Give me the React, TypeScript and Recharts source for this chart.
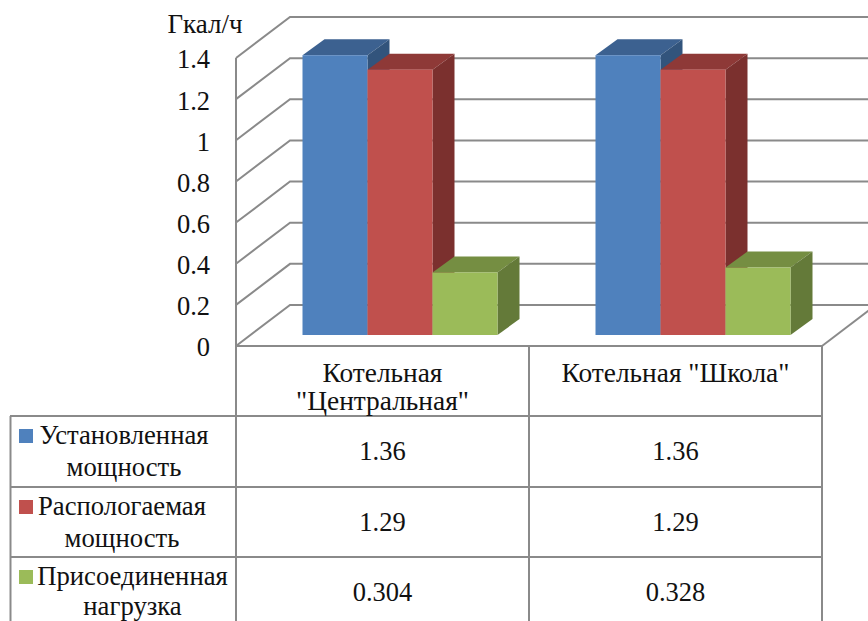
import { Bar, BarChart, CartesianGrid, XAxis, YAxis } from "recharts";

const categories = ['Котельная "Центральная"', 'Котельная "Школа"'];
const categoryLines = [["Котельная", '"Центральная"'], ['Котельная "Школа"']];
const installed = [1.36, 1.36];
const available = [1.29, 1.29];
const connected = [0.304, 0.328];
const yTicks = [0, 0.2, 0.4, 0.6, 0.8, 1, 1.2, 1.4];

const seriesKeys = ["installed", "available", "connected"];
const seriesValues = [installed, available, connected];
const seriesLabels = [
  ["Установленная", "мощность"],
  ["Распологаемая", "мощность"],
  ["Присоединенная", "нагрузка"],
];

const data = categories.map((category, i) => ({
  category,
  installed: installed[i],
  available: available[i],
  connected: connected[i],
}));

const FRONT_COLORS = ["#4f81bd", "#c0504d", "#9bbb59"];
const TOP_COLORS = ["#3c6190", "#8e3937", "#758e42"];
const SIDE_COLORS = ["#32547c", "#7b302e", "#647a39"];

const FONT = '"Liberation Serif", "Times New Roman", serif';
const FONT_SIZE = 26.5;
const LINE = "#8a8a8a";
const TEXT = "#111";

// projection of the walls and of the bars
const WALL_DX = 54;
const WALL_DY = -41;
const PLANE_DX = 18;
const PLANE_DY = -11;
const DEPTH_DX = 22;
const DEPTH_DY = -16;

const ROW_TOPS = [416, 487, 557];
const LABEL_X = [124, 122, 132.5];
const LABEL_LINE2 = [60, 60, 58];

const Box3D = ({ x, y, width, height, front, top, side }: any) => {
  const l = x + PLANE_DX;
  const r = l + width;
  const t = y + PLANE_DY;
  const b = t + height;
  return (
    <g>
      <polygon points={`${l},${t} ${l + DEPTH_DX},${t + DEPTH_DY} ${r + DEPTH_DX},${t + DEPTH_DY} ${r},${t}`} fill={top} />
      <polygon points={`${r},${t} ${r + DEPTH_DX},${t + DEPTH_DY} ${r + DEPTH_DX},${b + DEPTH_DY} ${r},${b}`} fill={side} />
      <rect x={l} y={t} width={width} height={height} fill={front} />
    </g>
  );
};

const WallLine = ({ x1, y1, x2, index }: any) => (
  <g key={`wall-${index}`} fill="none" stroke={LINE} strokeWidth={2}>
    <polyline points={`${x1},${y1} ${x1 + WALL_DX},${y1 + WALL_DY} 868,${y1 + WALL_DY}`} />
    {index === 0 && <line x1={x2} y1={y1} x2={x2 + WALL_DX} y2={y1 + WALL_DY} />}
  </g>
);

const CategoryTick = ({ x, y, index }: any) => (
  <g fontFamily={FONT} fill={TEXT} textAnchor="middle">
    {categoryLines[index].map((line, i) => (
      <text key={line} x={x} y={y + 28 + i * 28} fontSize={27.4}>
        {line}
      </text>
    ))}
    {seriesValues.map((values, row) => (
      <text key={seriesKeys[row]} x={x} y={ROW_TOPS[row] + 44} fontSize={FONT_SIZE}>
        {values[index]}
      </text>
    ))}
  </g>
);

const TableLines = () => (
  <svg width={868} height={621} style={{ position: "absolute", left: 0, top: 0 }}>
    <g stroke={LINE} strokeWidth={2}>
      <line x1={236} y1={346} x2={236} y2={621} />
      <line x1={529} y1={346} x2={529} y2={621} />
      <line x1={822} y1={346} x2={822} y2={621} />
      <line x1={10.5} y1={416} x2={10.5} y2={621} />
      {ROW_TOPS.map((y) => (
        <line key={y} x1={10} y1={y} x2={822} y2={y} />
      ))}
    </g>
    {seriesLabels.map((lines, row) => (
      <g key={seriesKeys[row]} fontFamily={FONT} fontSize={26.7} fill={TEXT} textAnchor="middle">
        <rect x={19} y={ROW_TOPS[row] + 13} width={14} height={14} fill={FRONT_COLORS[row]} />
        <text x={LABEL_X[row]} y={ROW_TOPS[row] + 28}>{lines[0]}</text>
        <text x={LABEL_X[row]} y={ROW_TOPS[row] + LABEL_LINE2[row]}>{lines[1]}</text>
      </g>
    ))}
  </svg>
);

export default function App() {
  return (
    <div style={{ position: "absolute", left: 0, top: 0, width: 868, height: 621, overflow: "hidden" }}>
      <TableLines />
      <div style={{ position: "absolute", left: 0, top: 0 }}>
        <BarChart
          width={868}
          height={621}
          data={data}
          margin={{ top: 58, right: 46, bottom: 0, left: 0 }}
          barGap={0}
          barCategoryGap={48.5}
        >
          <CartesianGrid vertical={false} horizontal={(props: any) => <WallLine {...props} />} />
          <XAxis
            dataKey="category"
            height={275}
            interval={0}
            tickLine={false}
            axisLine={{ stroke: LINE, strokeWidth: 2 }}
            tick={(props: any) => <CategoryTick {...props} />}
          />
          <YAxis
            width={236}
            domain={[0, 1.4]}
            ticks={yTicks}
            tickLine={false}
            axisLine={{ stroke: LINE, strokeWidth: 2 }}
            tickMargin={20}
            tick={{ fontFamily: FONT, fontSize: FONT_SIZE, fill: TEXT, dy: 1 }}
          />
          {seriesKeys.map((key, i) => (
            <Bar
              key={key}
              dataKey={key}
              isAnimationActive={false}
              shape={(props: any) => (
                <Box3D {...props} front={FRONT_COLORS[i]} top={TOP_COLORS[i]} side={SIDE_COLORS[i]} />
              )}
            />
          ))}
          <text x={205} y={33} fontFamily={FONT} fontSize={27} fill={TEXT} textAnchor="middle">
            Гкал/ч
          </text>
        </BarChart>
      </div>
    </div>
  );
}
